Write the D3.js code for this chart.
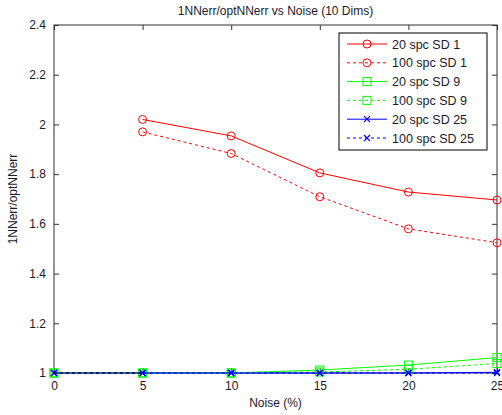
<!DOCTYPE html>
<html>
<head>
<meta charset="utf-8">
<script src="https://cdn.jsdelivr.net/npm/d3@7"></script>
<style>
  body { margin: 0; background: #fff; }
  text { font-family: "Liberation Sans", Arial, sans-serif; fill: #1a1a2e; }
</style>
</head>
<body>
<div id="plot"></div>
<script>
// noise levels (%)
const noise = [0, 5, 10, 15, 20, 25];
const redNoise = [5, 10, 15, 20, 25];

// 1NNerr / optNNerr ratios
const spc20sd1 = [2.020, 1.954, 1.805, 1.728, 1.696];
const spc100sd1 = [1.970, 1.883, 1.709, 1.580, 1.524];
const spc20sd9 = [1, 1, 1, 1.012, 1.032, 1.062];
const spc100sd9 = [1, 1, 1, 1.004, 1.015, 1.038];
const spc20sd25 = [1, 1, 1, 1, 1, 1.003];
const spc100sd25 = [1, 1, 1, 1, 1, 1];
const refX = [0, 5];

const yTicks = [1, 1.2, 1.4, 1.6, 1.8, 2, 2.2, 2.4];
const xTicks = [0, 5, 10, 15, 20, 25];

const series = [
    { name: '20 spc SD 1', x: redNoise, y: spc20sd1, color: '#ff0000', dash: null, marker: 'circle' },
    { name: '100 spc SD 1', x: redNoise, y: spc100sd1, color: '#ff0000', dash: '3,3', marker: 'circle' },
    { name: '20 spc SD 9', x: noise, y: spc20sd9, color: '#00ff00', dash: null, marker: 'square' },
    { name: '100 spc SD 9', x: noise, y: spc100sd9, color: '#00ff00', dash: '3,3', marker: 'square' },
    { name: '20 spc SD 25', x: noise, y: spc20sd25, color: '#0000ff', dash: null, marker: 'x' },
    { name: '100 spc SD 25', x: noise, y: spc100sd25, color: '#0000ff', dash: '3,3', marker: 'x' }
];

const W = 502, H = 415;
const margin = { top: 25, right: 5, bottom: 42, left: 54 };
const width = W - margin.left - margin.right,
      height = H - margin.top - margin.bottom;

const svg = d3.select('#plot').append('svg')
    .attr('width', W)
    .attr('height', H);

const g = svg.append('g')
    .attr('transform', 'translate(' + margin.left + ',' + margin.top + ')');

const x = d3.scaleLinear().domain([0, 25]).range([0, width]);
const y = d3.scaleLinear().domain([1, 2.4]).range([height, 0]);

// box
g.append('rect')
    .attr('width', width).attr('height', height)
    .attr('fill', 'none').attr('stroke', '#333').attr('stroke-width', 1);

// axes with inward ticks
const fmt = d => d3.format('')(d);
const xb = g.append('g').attr('transform', 'translate(0,' + height + ')')
    .call(d3.axisBottom(x).tickValues(xTicks).tickSize(-5).tickPadding(8).tickFormat(fmt));
const yl = g.append('g')
    .call(d3.axisLeft(y).tickValues(yTicks).tickSize(-5).tickPadding(8).tickFormat(fmt));
const xt = g.append('g')
    .call(d3.axisTop(x).tickValues(xTicks).tickSize(-5).tickFormat(''));
const yr = g.append('g').attr('transform', 'translate(' + width + ',0)')
    .call(d3.axisRight(y).tickValues(yTicks).tickSize(-5).tickFormat(''));
[xb, yl, xt, yr].forEach(a => {
    a.select('.domain').remove();
    a.selectAll('line').attr('stroke', '#333');
    a.selectAll('text').style('font-size', '12px').attr('fill', '#1a1a2e')
        .style('font-family', '"Liberation Sans", Arial, sans-serif');
});

function drawMarkers(sel, s, pts) {
    if (s.marker === 'circle') {
        sel.selectAll(null).data(pts).enter().append('circle')
            .attr('cx', d => d[0]).attr('cy', d => d[1]).attr('r', 4)
            .attr('fill', 'none').attr('stroke', s.color);
    } else if (s.marker === 'square') {
        sel.selectAll(null).data(pts).enter().append('rect')
            .attr('x', d => d[0] - 4).attr('y', d => d[1] - 4)
            .attr('width', 8).attr('height', 8)
            .attr('fill', 'none').attr('stroke', s.color);
    } else {
        sel.selectAll(null).data(pts).enter().append('path')
            .attr('d', d => 'M' + (d[0] - 3) + ',' + (d[1] - 3) + 'L' + (d[0] + 3) + ',' + (d[1] + 3) +
                'M' + (d[0] - 3) + ',' + (d[1] + 3) + 'L' + (d[0] + 3) + ',' + (d[1] - 3))
            .attr('stroke', s.color).attr('stroke-width', 1.2);
    }
}

const line = d3.line();
series.forEach(s => {
    const pts = s.x.map((v, i) => [x(v), y(s.y[i])]);
    const sg = g.append('g');
    sg.append('path').attr('d', line(pts))
        .attr('fill', 'none').attr('stroke', s.color).attr('stroke-width', 1)
        .attr('stroke-dasharray', s.dash);
    drawMarkers(sg, s, pts);
});

// black dashed reference at ratio 1
g.append('path')
    .attr('d', line(refX.map(v => [x(v), y(1)])))
    .attr('fill', 'none').attr('stroke', '#000').attr('stroke-dasharray', '3,3');

// title and labels
svg.append('text').attr('x', margin.left + width / 2).attr('y', 15)
    .attr('text-anchor', 'middle').style('font-size', '12px')
    .text('1NNerr/optNNerr vs Noise (10 Dims)');
svg.append('text').attr('x', margin.left + width / 2).attr('y', H - 8)
    .attr('text-anchor', 'middle').style('font-size', '12px')
    .text('Noise (%)');
svg.append('text')
    .attr('transform', 'translate(17,' + (margin.top + height / 2) + ') rotate(-90)')
    .attr('text-anchor', 'middle').style('font-size', '12px')
    .text('1NNerr/optNNerr');

// legend
const lg = svg.append('g').attr('transform', 'translate(339,33)');
lg.append('rect').attr('width', 148).attr('height', 117)
    .attr('fill', '#fff').attr('stroke', '#000');
series.forEach((s, i) => {
    const cy = 11 + i * 18.8;
    const row = lg.append('g');
    row.append('line').attr('x1', 8).attr('x2', 48).attr('y1', cy).attr('y2', cy)
        .attr('stroke', s.color).attr('stroke-dasharray', s.dash);
    drawMarkers(row, s, [[28, cy]]);
    row.append('text').attr('x', 53).attr('y', cy + 4.5)
        .style('font-size', '12.5px').text(s.name);
});
</script>
</body>
</html>
